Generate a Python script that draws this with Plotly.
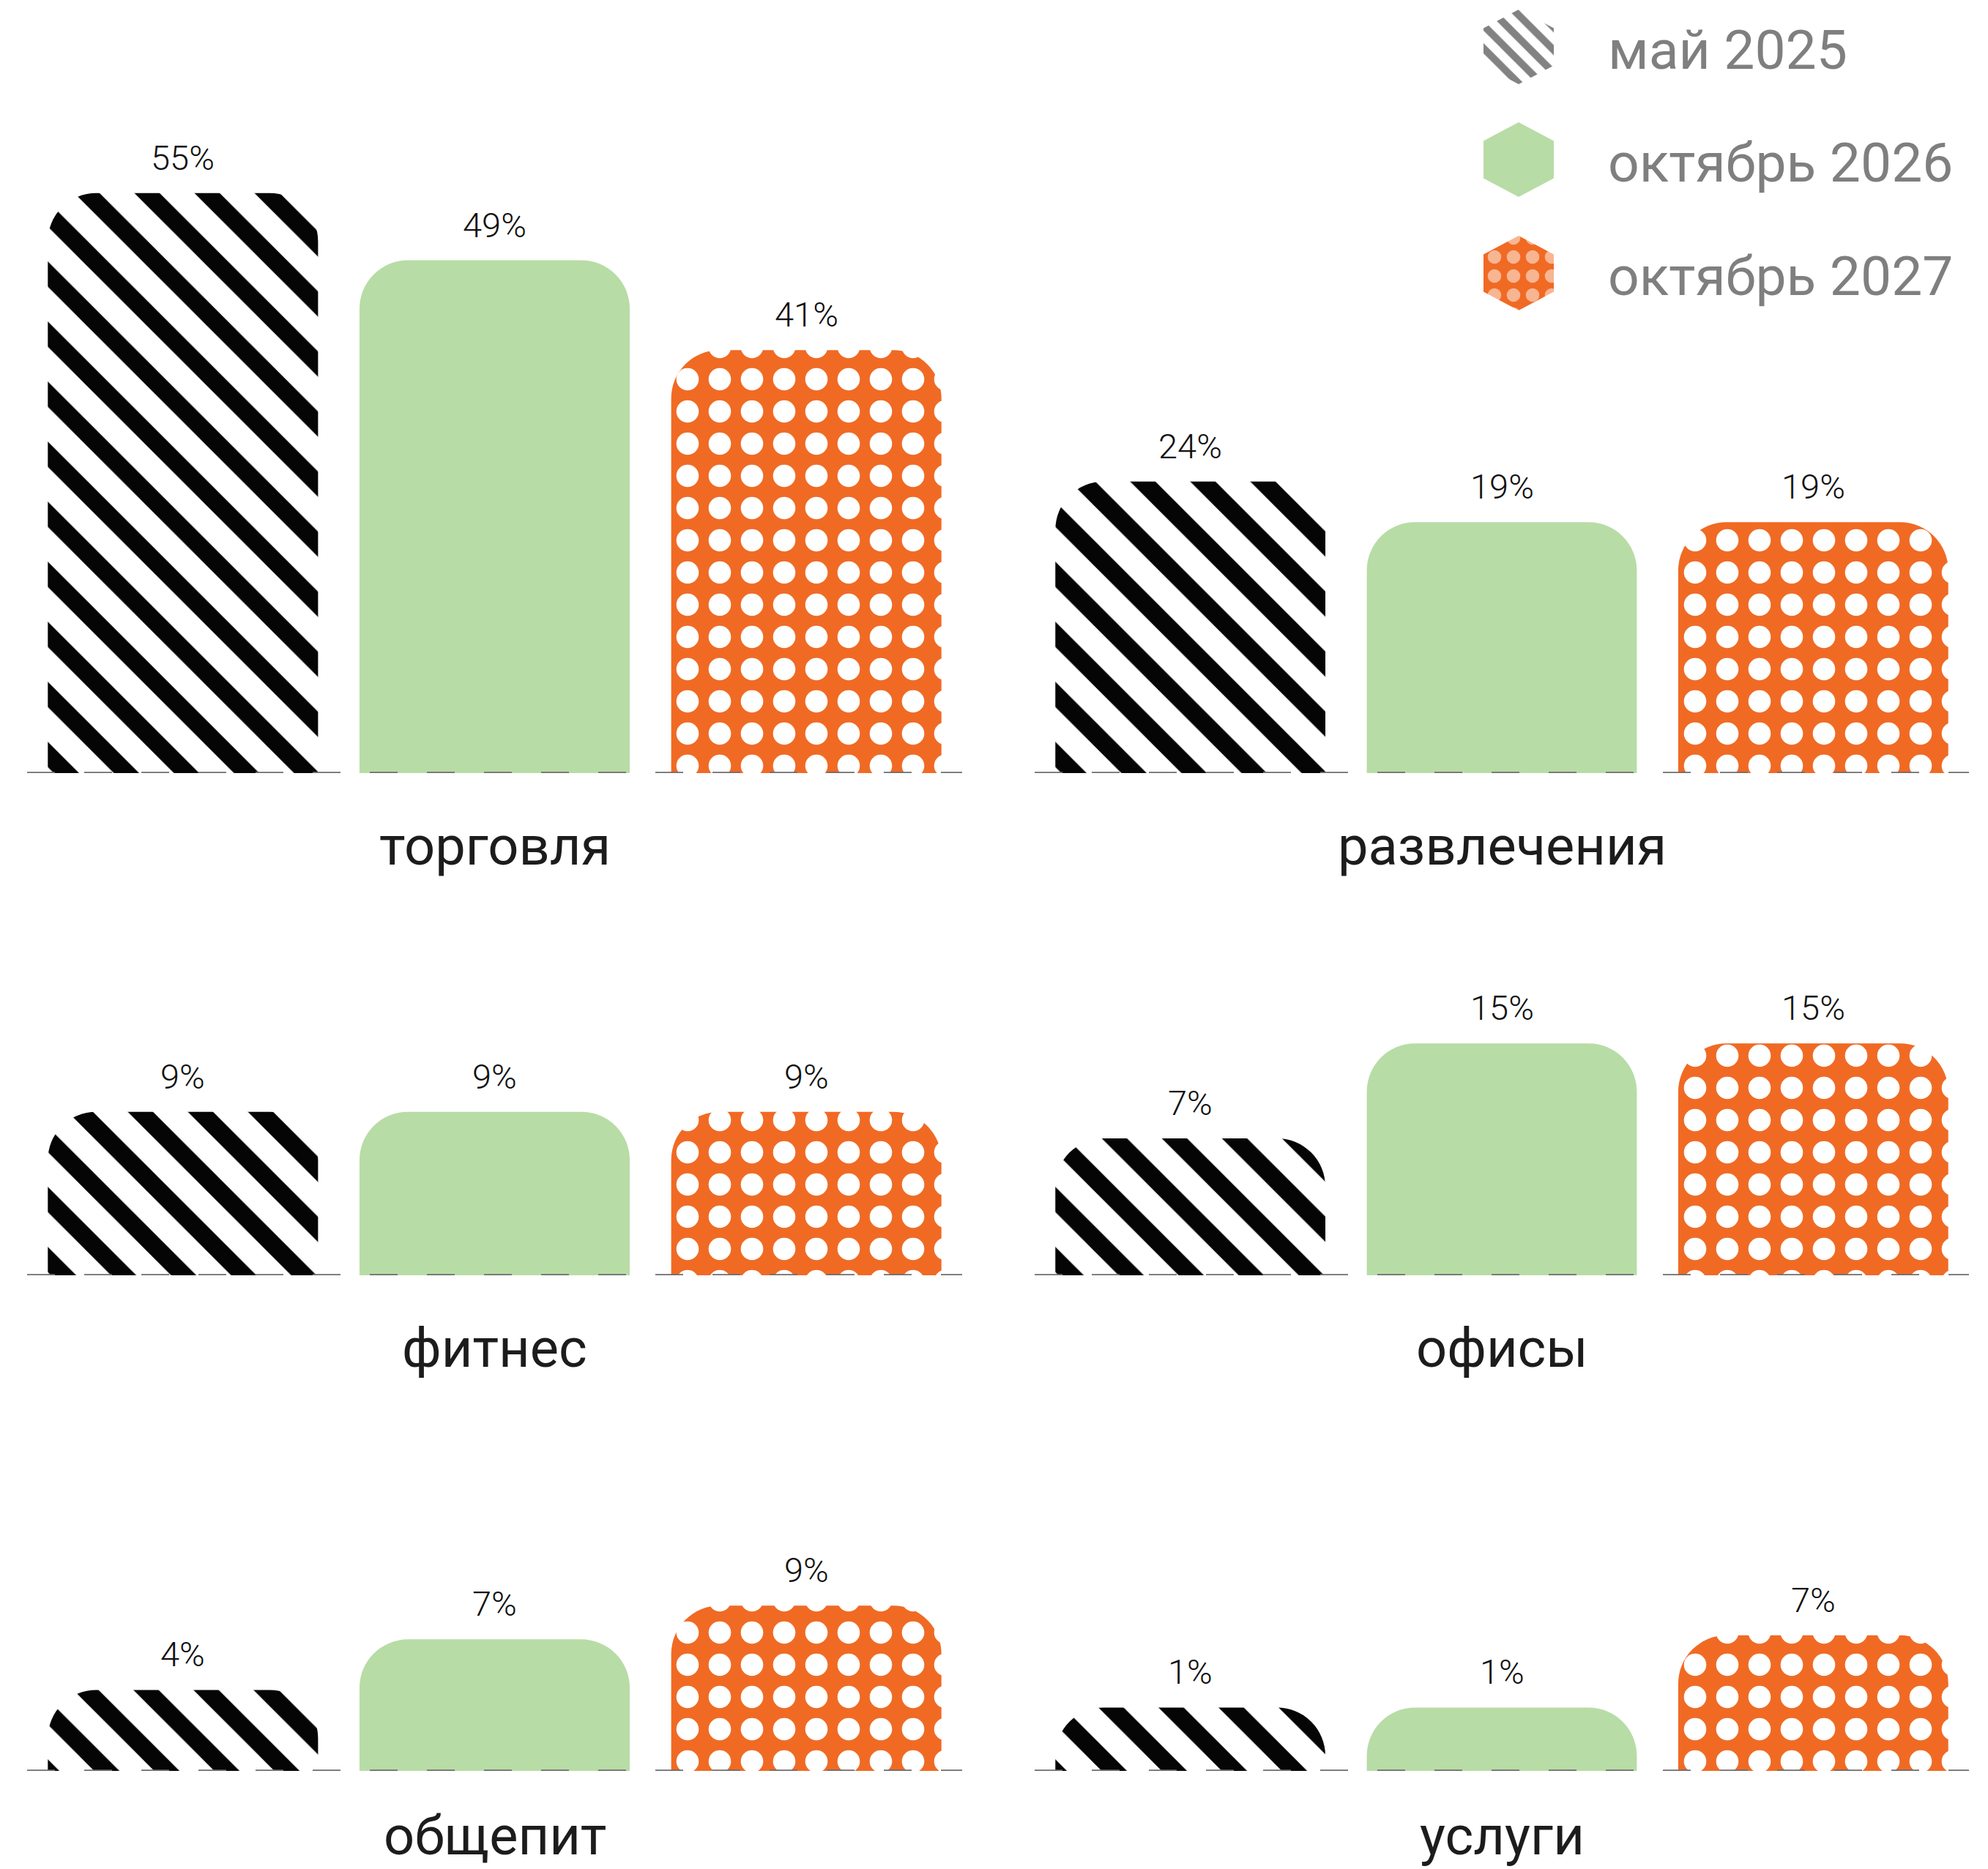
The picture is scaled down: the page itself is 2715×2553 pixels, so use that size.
import plotly.graph_objects as go

# ---------------- data ----------------
categories = ["торговля", "развлечения", "фитнес", "офисы", "общепит", "услуги"]
series_names = ["май 2025", "октябрь 2026", "октябрь 2027"]
may_2025 = [55, 24, 9, 7, 4, 1]
oct_2026 = [49, 19, 9, 15, 7, 1]
oct_2027 = [41, 19, 9, 15, 9, 7]
series_values = [may_2025, oct_2026, oct_2027]

# ---------------- style ----------------
W, H = 2715, 2553
# every panel has its own independent y scale: px per %-point and the %-value at the baseline
panel_px_per_unit = [15.32, 11.08, 16.62, 16.23, 23.03, 16.45]
panel_baseline_value = [3.28, -11.94, -4.44, -4.52, -0.80, -4.26]
BAR_WIDTH = 0.867
CORNER = 66

col_px = [(37, 1314), (1413, 2689)]
row_base_px = [1056, 1742, 2419]
row_top_px = [100, 1200, 1900]
row_label_shift = [-99, -99, -88]

zebra = dict(shape="\\", fgcolor="#050505", bgcolor="#ffffff", size=58, solidity=0.42, fillmode="replace")
green = "#b8dca6"
dots = dict(shape=".", fgcolor="#ffffff", bgcolor="#f06a24", size=44, solidity=0.38, fillmode="replace")

VALUE_FONT = dict(family="Roboto, Inter, sans-serif", size=47, color="#111111", weight=300)
CAT_FONT = dict(family="Roboto, Inter, sans-serif", size=74, color="#1c1c1c")
LEG_FONT = dict(family="Roboto, Inter, sans-serif", size=75, color="#7f7f7f")

fig = go.Figure()
annotations = []
shapes = []
layout_axes = {}

for k, cat in enumerate(categories):
    row, col = divmod(k, 2)
    xa = "x" if k == 0 else f"x{k+1}"
    ya = "y" if k == 0 else f"y{k+1}"
    xname = "xaxis" if k == 0 else f"xaxis{k+1}"
    yname = "yaxis" if k == 0 else f"yaxis{k+1}"
    x0, x1 = col_px[col]
    yb, yt = row_base_px[row], row_top_px[row]
    lo = panel_baseline_value[k]
    layout_axes[xname] = dict(domain=[x0 / W, x1 / W], range=[-0.5, 2.5], visible=False,
                              fixedrange=True, anchor=ya)
    layout_axes[yname] = dict(domain=[1 - yb / H, 1 - yt / H],
                              range=[0, (yb - yt) / panel_px_per_unit[k]],
                              visible=False, fixedrange=True, anchor=xa)
    for j, (name, vals) in enumerate(zip(series_names, series_values)):
        v = vals[k]
        marker = dict(cornerradius=CORNER, line=dict(width=0))
        if j == 0:
            marker["pattern"] = zebra
        elif j == 1:
            marker["color"] = green
        else:
            marker["pattern"] = dots
        # bar length measured from the panel's baseline value
        fig.add_trace(go.Bar(x=[j], y=[v - lo], width=[BAR_WIDTH], xaxis=xa, yaxis=ya,
                             marker=marker, name=name, showlegend=False,
                             hovertemplate=f"{cat}<br>{name}: {v}%<extra></extra>"))
        annotations.append(dict(x=j, y=v - lo, xref=xa, yref=ya, text=f"{v}%",
                                showarrow=False, yanchor="bottom", yshift=19,
                                font=VALUE_FONT))
    annotations.append(dict(x=1, y=0, xref=xa, yref=ya, text=cat, showarrow=False,
                            yanchor="middle", yshift=row_label_shift[row], font=CAT_FONT))
    shapes.append(dict(type="line", xref=xa, yref=ya, x0=-0.5, x1=2.5, y0=0, y1=0,
                       line=dict(color="#6e6e6e", width=3.5, dash="38px,40px"), layer="above"))

# ---------------- custom legend (hexagons) ----------------
layout_axes["xaxis7"] = dict(domain=[0, 1], range=[0, W], visible=False, fixedrange=True, anchor="y7")
layout_axes["yaxis7"] = dict(domain=[0, 1], range=[H, 0], visible=False, fixedrange=True, anchor="x7")

leg_cx = 2074
leg_cy = [64, 218, 373]
hw, hh = 48, 51
leg_styles = [
    dict(fillpattern=dict(shape="\\", fgcolor="#050505", bgcolor="#ffffff", size=22, solidity=0.45)),
    dict(fillcolor=green),
    dict(fillpattern=dict(shape=".", fgcolor="#ffffff", bgcolor="#f06a24", size=26, solidity=0.4)),
]
for name, cy, st in zip(series_names, leg_cy, leg_styles):
    xs = [leg_cx, leg_cx + hw, leg_cx + hw, leg_cx, leg_cx - hw, leg_cx - hw, leg_cx]
    ys = [cy - hh, cy - hh / 2, cy + hh / 2, cy + hh, cy + hh / 2, cy - hh / 2, cy - hh]
    fig.add_trace(go.Scatter(x=xs, y=ys, xaxis="x7", yaxis="y7", mode="lines", fill="toself",
                             line=dict(width=0, color="rgba(0,0,0,0)"), showlegend=False,
                             hoverinfo="skip", name=name, **st))
    annotations.append(dict(x=2194 / W, y=1 - (cy + 4) / H, xref="paper", yref="paper", text=name,
                            showarrow=False, xanchor="left", yanchor="middle", font=LEG_FONT))

fig.update_layout(
    width=W, height=H,
    margin=dict(l=0, r=0, t=0, b=0),
    paper_bgcolor="#ffffff",
    plot_bgcolor="rgba(0,0,0,0)",
    barmode="overlay",
    showlegend=False,
    annotations=annotations,
    shapes=shapes,
    **layout_axes,
)

fig.write_html("out.html")
